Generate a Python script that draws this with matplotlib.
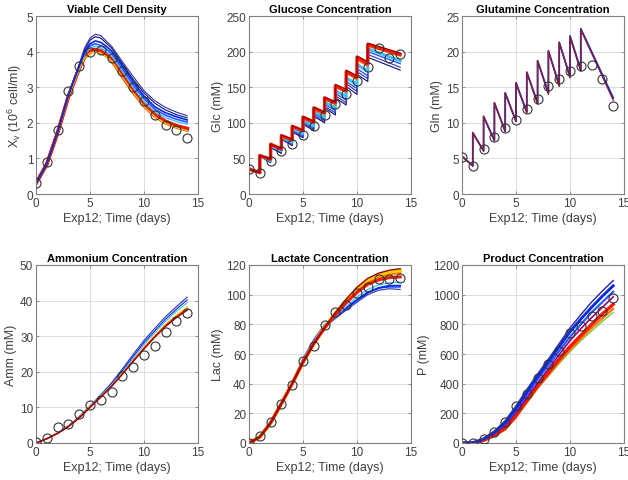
import matplotlib
matplotlib.use("Agg")
import matplotlib.pyplot as plt

plt.rcParams['font.family'] = ['Liberation Sans', 'DejaVu Sans']
plt.rcParams['mathtext.default'] = 'regular'

# ---------------- data ----------------
days = [0, 1, 2, 3, 4, 5, 6, 7, 8, 9, 10, 11, 12, 13, 14]
t_xv = [0, 1, 2, 3, 4, 4.5, 5, 5.5, 6, 6.5, 7, 8, 9, 10, 11, 12, 13, 14]
t_feed = [0, 1, 1, 2, 2, 3, 3, 4, 4, 5, 5, 6, 6, 7, 7, 8, 8, 9, 9, 10, 10, 11, 11, 14]

xv_meas = [0.3, 0.9, 1.8, 2.9, 3.6, 4.0, 4.05, 3.83, 3.46, 3.0, 2.62, 2.22, 1.93, 1.8, 1.58]
xv_navy1 = [0.3, 0.85, 1.75, 2.8, 3.65, 4.1, 4.38, 4.49, 4.45, 4.3, 4.15, 3.72, 3.3, 2.9, 2.62, 2.43, 2.3, 2.2]
xv_navy2 = [0.3, 0.85, 1.75, 2.8, 3.63, 4.06, 4.32, 4.42, 4.38, 4.24, 4.1, 3.66, 3.22, 2.84, 2.55, 2.36, 2.23, 2.14]
xv_blue1 = [0.3, 0.85, 1.74, 2.78, 3.6, 4.0, 4.22, 4.3, 4.26, 4.15, 4.02, 3.6, 3.15, 2.75, 2.45, 2.28, 2.17, 2.08]
xv_blue2 = [0.3, 0.85, 1.74, 2.78, 3.58, 3.96, 4.16, 4.22, 4.17, 4.07, 3.95, 3.52, 3.07, 2.68, 2.38, 2.21, 2.1, 2.02]
xv_lblue = [0.3, 0.84, 1.73, 2.76, 3.56, 3.92, 4.1, 4.15, 4.1, 4.0, 3.88, 3.45, 3.0, 2.6, 2.31, 2.14, 2.04, 1.96]
xv_yellow = [0.3, 0.84, 1.71, 2.72, 3.5, 3.82, 3.96, 4.0, 3.96, 3.86, 3.74, 3.28, 2.84, 2.46, 2.17, 1.98, 1.86, 1.78]
xv_red = [0.3, 0.84, 1.72, 2.74, 3.53, 3.86, 4.01, 4.06, 4.02, 3.92, 3.79, 3.34, 2.9, 2.52, 2.23, 2.04, 1.92, 1.84]
xv_dred = [0.3, 0.84, 1.72, 2.73, 3.52, 3.84, 3.98, 4.03, 3.99, 3.89, 3.76, 3.3, 2.86, 2.48, 2.19, 2.0, 1.88, 1.8]

glc_meas = [35, 29, 46.5, 61, 70, 83, 95, 110.7, 126.5, 141, 159, 177.7, 204.7, 190.7, 196.3]
glc_navy2 = [35, 30, 53, 44, 65, 57, 77, 68, 87, 79, 98, 89, 109, 100, 121, 111, 135, 125, 151, 140, 168, 158, 192, 174]
glc_navy1 = [35, 30, 53, 45, 66, 58, 78, 69, 88, 80, 99, 91, 111, 102, 123, 114, 138, 128, 155, 144, 172, 162, 196, 178]
glc_blue = [35, 30, 54, 46, 67, 60, 79, 71, 90, 82, 101, 93, 113, 105, 126, 117, 141, 132, 158, 148, 176, 166, 200, 183]
glc_lblue = [35, 30, 54, 47, 68, 61, 80, 73, 92, 85, 104, 96, 116, 108, 129, 121, 145, 137, 163, 154, 182, 172, 204, 187]
glc_orange = [35, 30, 54, 48, 69, 62, 81, 75, 94, 88, 106, 99, 119, 112, 133, 126, 150, 143, 170, 161, 189, 180, 208, 194]
glc_red = [35, 30, 54, 49, 70, 63, 82, 76, 95, 89, 108, 101, 121, 114, 135, 128, 152, 145, 172, 164, 192, 183, 210, 196]
glc_dred = [35, 30, 54, 49, 70, 64, 83, 77, 96, 90, 109, 102, 122, 115, 136, 129, 154, 147, 174, 166, 194, 186, 212, 198]

gln_meas = [5.2, 3.95, 6.3, 8.0, 9.3, 10.4, 11.9, 13.3, 15.1, 16.1, 17.3, 18.0, 18.1, 16.2, 12.3]
gln_blue = [5.3, 3.95, 8.6, 6.05, 10.9, 7.5, 12.8, 8.8, 14.2, 10.2, 15.6, 11.5, 17.1, 12.8, 18.7, 14.2, 20.1, 15.3, 21.3, 16.5, 22.2, 17.4, 23.2, 13.5]
gln_dred = [5.3, 3.95, 8.6, 6.05, 10.9, 7.5, 12.8, 8.8, 14.2, 10.2, 15.6, 11.4, 17.1, 12.6, 18.7, 14.0, 20.1, 15.1, 21.3, 16.3, 22.1, 17.2, 23.1, 13.2]

amm_meas = [0.2, 1.3, 4.4, 5.2, 8.2, 10.8, 12.1, 14.2, 18.9, 21.4, 24.7, 27.3, 31.3, 34.3, 36.5]
amm_navy = [0, 1.2, 2.8, 4.8, 7.4, 10.4, 13.5, 16.9, 20.8, 24.9, 28.8, 32.2, 35.5, 38.3, 41.0]
amm_blue = [0, 1.2, 2.8, 4.8, 7.3, 10.3, 13.3, 16.6, 20.3, 24.3, 28.2, 31.5, 34.8, 37.6, 40.2]
amm_lblue = [0, 1.2, 2.8, 4.7, 7.2, 10.2, 13.2, 16.4, 19.9, 23.8, 27.6, 31.0, 34.2, 37.0, 39.4]
amm_yellow = [0, 1.2, 2.7, 4.6, 7.1, 10.1, 13.0, 16.1, 19.5, 23.2, 26.9, 30.2, 33.3, 35.9, 38.2]
amm_red = [0, 1.2, 2.7, 4.6, 7.1, 10.0, 12.9, 16.0, 19.4, 23.1, 26.6, 29.9, 33.0, 35.5, 37.6]
amm_dred = [0, 1.2, 2.7, 4.6, 7.0, 10.0, 12.9, 15.9, 19.3, 22.9, 26.4, 29.7, 32.7, 35.2, 37.3]

lac_meas = [0, 4.5, 14, 26.5, 39.3, 55.5, 65.5, 79.5, 88.5, 92.7, 101, 105.5, 110.5, 110.5, 111]
lac_navy = [0, 4.5, 14.5, 27.5, 41, 56, 68.5, 78, 84, 89.5, 95, 100, 103, 104, 103.5]
lac_blue2 = [0, 5, 15, 28, 41.5, 57, 70, 80, 86, 90, 95, 101, 104.5, 105, 105]
lac_blue = [0, 4.5, 14, 27, 40.5, 55.5, 68, 78, 85, 91, 96.5, 101.5, 104.5, 106, 106]
lac_lblue = [0, 4.5, 14, 27, 40.5, 55, 67.5, 77.5, 85, 92, 98.5, 103.5, 106.5, 108, 108.5]
lac_yellow = [0, 4, 13.5, 26.5, 40, 54.5, 67, 78, 87.5, 96, 104, 109.5, 113, 115, 116]
lac_orange = [0, 4, 13.5, 26.5, 40, 54.5, 67, 77.5, 87, 95, 102.5, 108, 111.5, 113.5, 114.5]
lac_red = [0, 4, 13.5, 26.5, 40, 54.5, 67, 77.5, 86.5, 94.5, 101.5, 107, 110, 111.5, 112]
lac_dred = [0, 4, 13.5, 26.5, 40, 54.5, 67, 78, 88, 97, 105, 111, 114.5, 116.5, 117.5]

p_meas = [0, 1, 25, 75, 140, 252, 327, 440, 530, 618, 741, 787, 854, 888, 978]
p_navy = [0, 2, 30, 80, 150, 250, 360, 465, 565, 670, 775, 865, 950, 1025, 1095]
p_blue1 = [0, 2, 28, 75, 140, 235, 345, 450, 550, 650, 750, 835, 915, 990, 1060]
p_blue2 = [0, 2, 25, 70, 130, 220, 325, 430, 525, 620, 715, 800, 880, 950, 1020]
p_purple = [0, 1, 22, 62, 118, 205, 305, 405, 500, 595, 690, 770, 845, 915, 985]
p_red = [0, 1, 18, 52, 100, 185, 285, 385, 475, 565, 650, 725, 800, 870, 935]
p_orange = [0, 1, 16, 48, 92, 175, 275, 372, 460, 548, 630, 705, 775, 840, 905]
p_green = [0, 1, 15, 45, 88, 168, 268, 365, 450, 535, 615, 690, 755, 820, 880]

# ---------------- styles ----------------
NAVY = (0.05, 0.05, 0.5)
NAVY2 = (0.2, 0.2, 0.65)
BLUE = (0.0, 0.15, 0.9)
BLUE2 = (0.15, 0.35, 1.0)
LBLUE = (0.25, 0.75, 1.0)
YELLOW = (1.0, 0.8, 0.0)
ORANGE = (1.0, 0.45, 0.0)
RED = (0.95, 0.1, 0.0)
DRED = (0.6, 0.0, 0.0)
GREEN = (0.4, 0.75, 0.1)
PURPLE = (0.6, 0.0, 0.5)

fig = plt.figure(figsize=(6.28, 4.81), dpi=100)
lefts = [36 / 628, 249 / 628, 462 / 628]
width = 162 / 628
bottoms = [1 - 195 / 481, 1 - 444 / 481]
height = 178 / 481

GRAYTXT = (0.25, 0.25, 0.25)


def make_ax(row, col, title, ylabel, ymax, ystep):
    ax = fig.add_axes([lefts[col], bottoms[row], width, height])
    ax.set_xlim(0, 15)
    ax.set_ylim(0, ymax)
    ax.set_xticks([0, 5, 10, 15])
    ax.set_yticks(list(range(0, ymax + 1, ystep)))
    ax.grid(True, color=(0.87, 0.87, 0.87), linewidth=0.7)
    ax.set_axisbelow(True)
    for s in ax.spines.values():
        s.set_color((0.5, 0.5, 0.5))
        s.set_linewidth(0.8)
    ax.tick_params(direction='in', length=2.5, width=0.6, colors=(0.5, 0.5, 0.5),
                   labelcolor=GRAYTXT, labelsize=8.5, top=True, right=True, pad=2)
    ax.set_title(title, fontsize=8, fontweight='bold', pad=3)
    ax.set_xlabel('Exp12; Time (days)', fontsize=9, color=GRAYTXT, labelpad=2)
    ax.set_ylabel(ylabel, fontsize=9, color=GRAYTXT, labelpad=2)
    return ax


def meas(ax, y):
    ax.plot(days, y, linestyle='none', marker='o', markersize=6.5, markerfacecolor='none',
            markeredgecolor=(0.2, 0.2, 0.2), markeredgewidth=0.8, zorder=5)


# Viable cell density
ax = make_ax(0, 0, 'Viable Cell Density', r'X$_v$ (10$^6$ cell/ml)', 5, 1)
for y, c, lw in [(xv_dred, (0.85, 0.05, 0.0), 2.4), (xv_red, RED, 2.6), (xv_yellow, YELLOW, 0.9),
                 (xv_lblue, LBLUE, 1.0), (xv_blue2, BLUE2, 1.2), (xv_blue1, BLUE, 1.2),
                 (xv_navy2, NAVY, 0.8), (xv_navy1, NAVY2, 0.8)]:
    ax.plot(t_xv, y, color=c, linewidth=lw)
meas(ax, xv_meas)

# Glucose
ax = make_ax(0, 1, 'Glucose Concentration', 'Glc (mM)', 250, 50)
for y, c, lw in [(glc_navy2, NAVY, 0.8), (glc_navy1, NAVY2, 0.8), (glc_blue, BLUE2, 1.0),
                 (glc_lblue, LBLUE, 2.2), (glc_orange, ORANGE, 1.4), (glc_red, RED, 2.4),
                 (glc_dred, DRED, 0.8)]:
    ax.plot(t_feed, y, color=c, linewidth=lw)
meas(ax, glc_meas)

# Glutamine
ax = make_ax(0, 2, 'Glutamine Concentration', 'Gln (mM)', 25, 5)
ax.plot(t_feed, gln_blue, color=BLUE, linewidth=1.3)
ax.plot(t_feed, gln_dred, color=(0.55, 0.12, 0.18), linewidth=1.0)
meas(ax, gln_meas)

# Ammonium
ax = make_ax(1, 0, 'Ammonium Concentration', 'Amm (mM)', 50, 10)
for y, c, lw in [(amm_navy, NAVY2, 0.8), (amm_blue, BLUE, 0.8), (amm_lblue, LBLUE, 0.8),
                 (amm_yellow, YELLOW, 1.0), (amm_red, RED, 1.1), (amm_dred, DRED, 0.9)]:
    ax.plot(days, y, color=c, linewidth=lw)
meas(ax, amm_meas)

# Lactate
ax = make_ax(1, 1, 'Lactate Concentration', 'Lac (mM)', 120, 20)
for y, c, lw in [(lac_navy, NAVY2, 0.8), (lac_blue2, BLUE2, 0.8),
                 (lac_blue, BLUE, 1.4), (lac_lblue, LBLUE, 0.9),
                 (lac_yellow, YELLOW, 2.6), (lac_orange, ORANGE, 1.2), (lac_red, RED, 2.2),
                 (lac_dred, DRED, 1.0)]:
    ax.plot(days, y, color=c, linewidth=lw)
meas(ax, lac_meas)

# Product
ax = make_ax(1, 2, 'Product Concentration', 'P (mM)', 1200, 200)
for y, c, lw in [(p_green, GREEN, 0.8), (p_orange, ORANGE, 1.6), (p_red, RED, 2.4),
                 (p_purple, PURPLE, 1.2), (p_blue2, BLUE2, 1.6), (p_blue1, BLUE, 2.0),
                 (p_navy, NAVY2, 1.1)]:
    ax.plot(days, y, color=c, linewidth=lw)
meas(ax, p_meas)

fig.savefig('out.png', dpi=100)
